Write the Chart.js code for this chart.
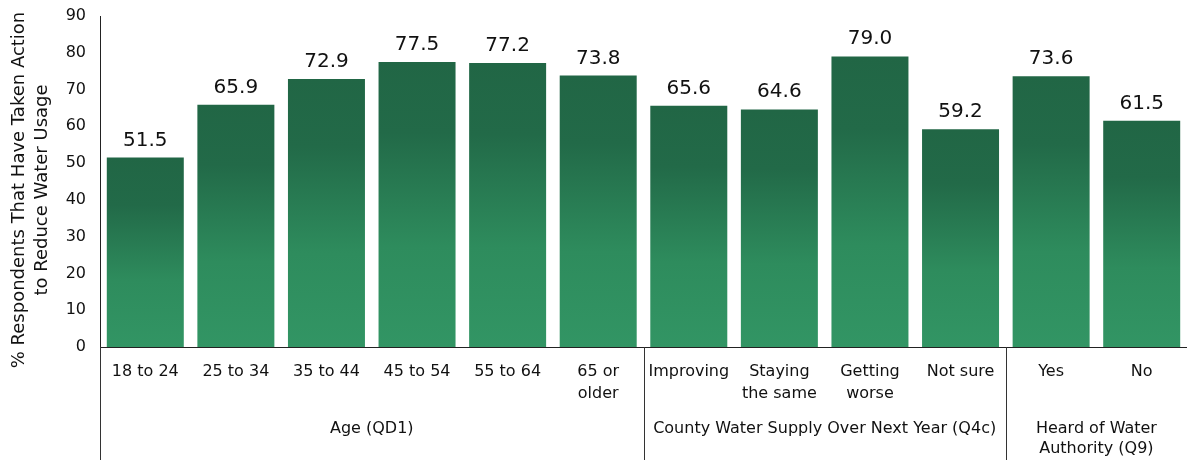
<!DOCTYPE html>
<html>
<head>
<meta charset="utf-8">
<script src="https://cdn.jsdelivr.net/npm/chart.js@4"></script>
<style>
  html, body { margin: 0; padding: 0; background: #fff; }
  #wrap { width: 1187px; height: 460px; }
</style>
</head>
<body>
<div id="wrap"><canvas id="waterChart" width="1187" height="460"></canvas></div>
<script>
const categories = [
    '18 to 24', '25 to 34', '35 to 44', '45 to 54', '55 to 64', ['65 or', 'older'],
    'Improving', ['Staying', 'the same'], ['Getting', 'worse'], 'Not sure',
    'Yes', 'No'
];
const values = [51.5, 65.9, 72.9, 77.5, 77.2, 73.8, 65.6, 64.6, 79.0, 59.2, 73.6, 61.5];
const groupNames = [['Age (QD1)'], ['County Water Supply Over Next Year (Q4c)'], ['Heard of Water', 'Authority (Q9)']];
const groupSizes = [6, 4, 2];
const yTicks = [0, 10, 20, 30, 40, 50, 60, 70, 80, 90];
const yTitle = ['% Respondents That Have Taken Action', 'to Reduce Water Usage'];

const FONT = '"DejaVu Sans", Verdana, sans-serif';

// gradient per bar, dark at the top fading lighter toward the base
function barFill(ctx) {
    const chart = ctx.chart;
    if (!chart.chartArea || !chart.scales.y) return '#2a7f55';
    const y = chart.scales.y;
    const top = y.getPixelForValue(values[ctx.dataIndex]);
    const base = y.getPixelForValue(0);
    const g = chart.ctx.createLinearGradient(0, top, 0, base);
    g.addColorStop(0, '#216645');
    g.addColorStop(0.25, '#226a48');
    g.addColorStop(0.65, '#2e8c5d');
    g.addColorStop(1, '#329564');
    return g;
}

const valueLabels = {
    id: 'valueLabels',
    afterDatasetsDraw(chart) {
        const ctx = chart.ctx;
        const meta = chart.getDatasetMeta(0);
        ctx.save();
        ctx.font = '20px ' + FONT;
        ctx.fillStyle = '#111';
        ctx.textAlign = 'center';
        ctx.textBaseline = 'alphabetic';
        meta.data.forEach((bar, i) => {
            ctx.fillText(values[i].toFixed(1), bar.x, bar.y - 12);
        });
        ctx.restore();
    }
};

// rotated two-line axis title, sitting a little below the plot's middle
const axisTitle = {
    id: 'axisTitle',
    afterDraw(chart) {
        const ctx = chart.ctx;
        ctx.save();
        ctx.font = '18px ' + FONT;
        ctx.fillStyle = '#111';
        ctx.textAlign = 'center';
        ctx.textBaseline = 'middle';
        yTitle.forEach((line, i) => {
            ctx.save();
            ctx.translate(19 + i * 23, 190);
            ctx.rotate(-Math.PI / 2);
            ctx.fillText(line, 0, 0);
            ctx.restore();
        });
        ctx.restore();
    }
};

const groupAxis = {
    id: 'groupAxis',
    afterDraw(chart) {
        const ctx = chart.ctx;
        const x = chart.scales.x;
        const area = chart.chartArea;
        const half = (x.getPixelForValue(1) - x.getPixelForValue(0)) / 2;
        ctx.save();
        ctx.strokeStyle = '#333';
        ctx.lineWidth = 1;
        ctx.font = '16px ' + FONT;
        ctx.fillStyle = '#111';
        ctx.textAlign = 'center';
        let start = 0;
        groupSizes.forEach((n, gi) => {
            const left = x.getPixelForValue(start) - half;
            const right = x.getPixelForValue(start + n - 1) + half;
            if (gi > 0) {
                ctx.beginPath();
                ctx.moveTo(Math.round(left) + 0.5, area.bottom);
                ctx.lineTo(Math.round(left) + 0.5, chart.height);
                ctx.stroke();
            }
            groupNames[gi].forEach((line, li) => {
                ctx.fillText(line, (left + right) / 2, 433 + li * 20);
            });
            start += n;
        });
        // y axis line runs down through the category rows
        ctx.beginPath();
        ctx.moveTo(area.left + 0.5, area.bottom);
        ctx.lineTo(area.left + 0.5, chart.height);
        ctx.stroke();
        ctx.restore();
    }
};

new Chart(document.getElementById('waterChart'), {
    type: 'bar',
    data: {
        labels: categories,
        datasets: [{
            data: values,
            backgroundColor: barFill,
            barPercentage: 0.85,
            categoryPercentage: 1.0,
            borderWidth: 0
        }]
    },
    options: {
        responsive: false,
        animation: false,
        layout: { padding: { top: 16, right: 0, left: 0, bottom: 0 } },
        plugins: { legend: { display: false }, tooltip: { enabled: false } },
        scales: {
            x: {
                grid: { display: false, drawTicks: false },
                border: { display: true, color: '#222', width: 1 },
                ticks: {
                    color: '#111',
                    font: { family: FONT, size: 16, lineHeight: 1.375 },
                    padding: 14,
                    maxRotation: 0,
                    autoSkip: false
                },
                afterFit(scale) { scale.height = 113; }
            },
            y: {
                min: 0,
                max: 90,
                afterBuildTicks(scale) { scale.ticks = yTicks.map(v => ({ value: v })); },
                grid: { display: false, drawTicks: false },
                border: { display: true, color: '#222', width: 1 },
                ticks: {
                    color: '#111',
                    font: { family: FONT, size: 16 },
                    padding: 14
                },
                afterFit(scale) {
                    scale.width = 100;
                    scale.paddingTop = 0;
                    scale.paddingBottom = 0;
                }
            }
        }
    },
    plugins: [valueLabels, axisTitle, groupAxis]
});
</script>
</body>
</html>
